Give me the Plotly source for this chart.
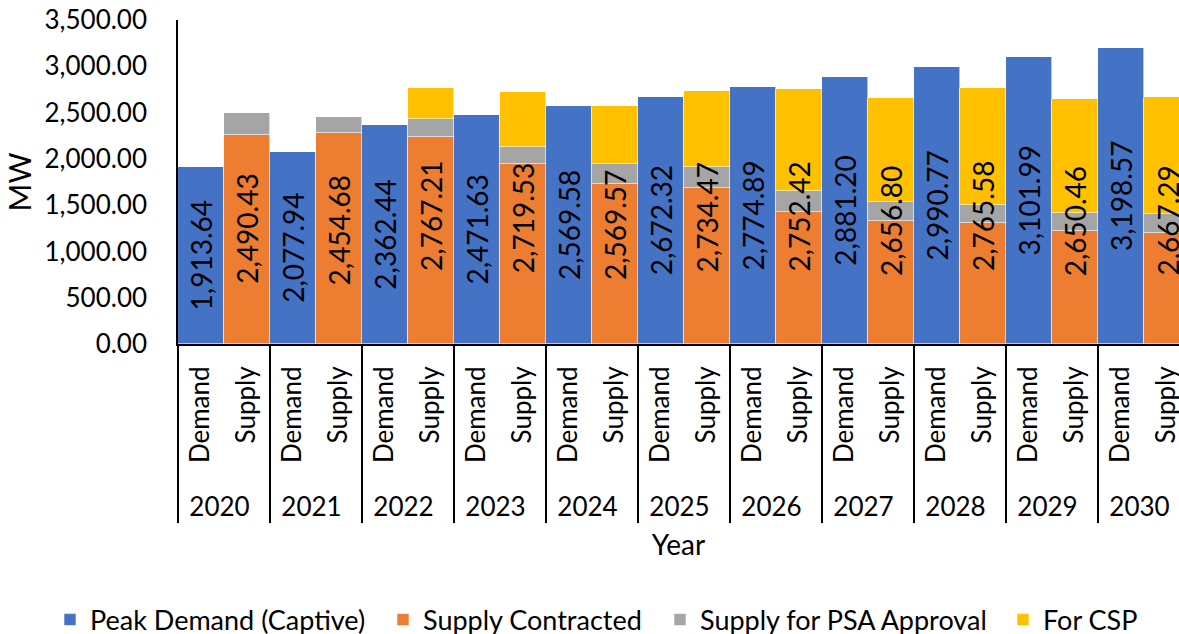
import plotly.graph_objects as go

years = ["2020", "2021", "2022", "2023", "2024", "2025", "2026", "2027", "2028", "2029", "2030"]
kinds = ["Demand", "Supply"]
peak_demand = [1913.64, 2077.94, 2362.44, 2471.63, 2569.58, 2672.32, 2774.89, 2881.20, 2990.77, 3101.99, 3198.57]
supply_contracted = [2254.43, 2278.68, 2235.00, 1941.00, 1724.00, 1681.00, 1431.00, 1330.00, 1305.00, 1218.00, 1203.00]
supply_psa = [236.00, 176.00, 192.00, 190.00, 225.00, 228.00, 217.00, 203.00, 195.00, 195.00, 203.00]
for_csp = [0.00, 0.00, 340.21, 588.53, 620.57, 825.47, 1104.42, 1123.80, 1265.58, 1237.46, 1261.29]

FONT = "Lato"
PAD = "\u00a0\u00a0"  # non-breaking padding so the year row sits lower
demand_x = [years, [PAD + kinds[0]] * len(years)]
supply_x = [years, [PAD + kinds[1]] * len(years)]

fig = go.Figure()
line = dict(color="white", width=0.6)
fig.add_trace(go.Bar(name="Peak Demand (Captive)", x=demand_x, y=peak_demand, legend="legend",
                     showlegend=True, marker=dict(color="#4472C4", line=line)))
fig.add_trace(go.Bar(name="Supply Contracted", x=supply_x, y=supply_contracted, legend="legend2",
                     showlegend=True, marker=dict(color="#ED7D31", line=line)))
fig.add_trace(go.Bar(name="Supply for PSA Approval", x=supply_x, y=supply_psa, legend="legend3",
                     showlegend=True, marker=dict(color="#A5A5A5", line=line)))
fig.add_trace(go.Bar(name="For CSP", x=supply_x, y=for_csp, legend="legend4",
                     showlegend=True, marker=dict(color="#FFC000", line=line)))

# total labels centred in each bar
for i, y in enumerate(years):
    tot_d = peak_demand[i]
    tot_s = supply_contracted[i] + supply_psa[i] + for_csp[i]
    for j, tot in ((2 * i, tot_d), (2 * i + 1, tot_s)):
        fig.add_annotation(x=j, y=tot / 2, xref="x", yref="y", text=f"{tot:,.2f}",
                           textangle=-90, showarrow=False,
                           font=dict(family=FONT, size=28, color="black"))


def leg(xpx):
    return dict(orientation="h", xref="container", x=xpx / 1179, xanchor="left",
                yref="container", y=0.022, yanchor="middle", visible=True,
                font=dict(size=27), itemwidth=30, bgcolor="rgba(0,0,0,0)")


fig.update_layout(
    barmode="stack", bargap=0, bargroupgap=0,
    width=1179, height=634,
    margin=dict(l=178, r=0, t=20, b=290),
    plot_bgcolor="white", paper_bgcolor="white",
    font=dict(family=FONT, size=25, color="black"),
    showlegend=True,
    legend=leg(50), legend2=leg(383), legend3=leg(660), legend4=leg(1003),
)
fig.update_xaxes(type="multicategory", showline=True, linecolor="black", linewidth=2,
                 tickangle=-90, showdividers=True, dividercolor="black", dividerwidth=1.5,
                 range=[-0.5, 21.26], tickfont=dict(size=26), ticklabelstandoff=10,
                 title=dict(text="Year", font=dict(size=28)))
fig.update_yaxes(range=[0, 3500], dtick=500, tickformat=",.2f", showgrid=False,
                 showline=True, linecolor="black", linewidth=1.5, ticks="", zeroline=False,
                 ticklabelstandoff=24,
                 tickfont=dict(size=26), title=dict(text="MW", font=dict(size=30), standoff=4))

fig.write_html("out.html", post_script="document.body.style.margin='0px';",
               config={"displayModeBar": False})
